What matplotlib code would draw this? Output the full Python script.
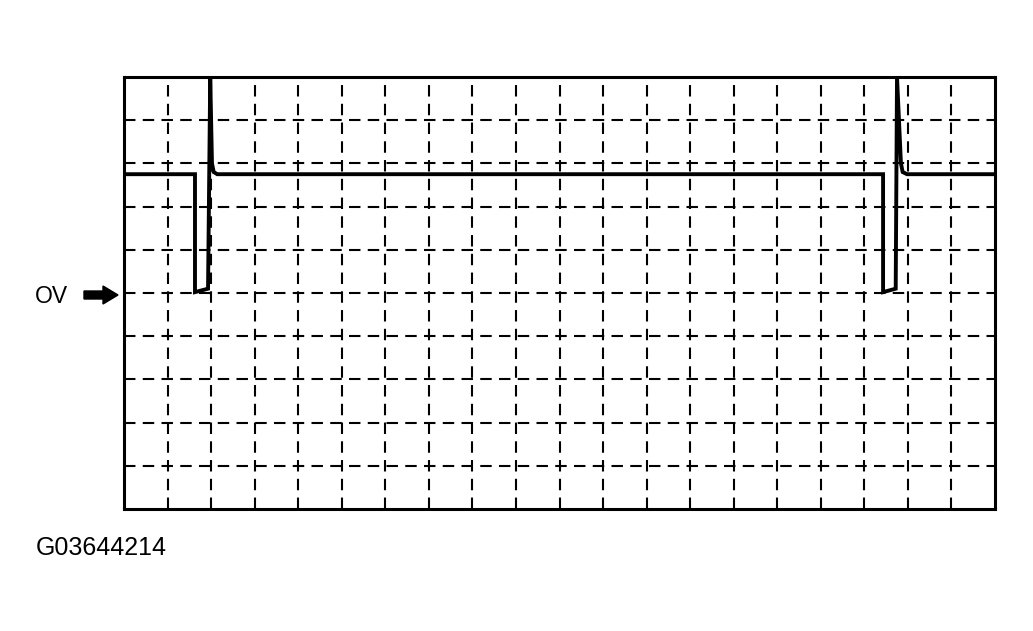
import matplotlib
matplotlib.use('Agg')
import matplotlib.pyplot as plt
from matplotlib.patches import Polygon
import numpy as np

plt.rcParams['font.family'] = ['Liberation Sans', 'DejaVu Sans']

# waveform, x in divisions (0..20), y in divisions (0V = 0)
t_vals = [0.0, 1.63, 1.63, 1.93, 1.98, 2.02, 2.06, 2.14,
          17.43, 17.43, 17.72, 17.75, 17.84, 17.88, 17.98, 20.0]
v_vals = [2.75, 2.75, 0.02, 0.10, 5.00, 3.00, 2.80, 2.75,
          2.75, 0.02, 0.10, 5.00, 3.00, 2.80, 2.75, 2.75]

x_divs = np.arange(1, 20)
y_divs = np.arange(-4, 5)

W, H = 1033, 631
fig = plt.figure(figsize=(W / 100, H / 100), dpi=100)
ax = fig.add_axes([124 / W, 1 - 509 / H, 871 / W, 432 / H])

# dashed grid
for xv in x_divs:
    ax.axvline(xv, color='black', lw=1.5, linestyle=(0, (5.5, 3.5)), zorder=1)
for yv in y_divs:
    ax.axhline(yv, color='black', lw=1.5, linestyle=(0, (5.5, 3.5)), zorder=1)

ax.plot(t_vals, v_vals, color='black', lw=2.8, solid_joinstyle='miter', zorder=3)

ax.set_xlim(0, 20)
ax.set_ylim(-5, 5)
ax.set_xticks([])
ax.set_yticks([])
for s in ax.spines.values():
    s.set_linewidth(2.2)
    s.set_color('black')

# 0V marker (block arrow drawn in pixel units)
cy = 295
arrow_px = [(84, cy - 4), (103, cy - 4), (103, cy - 9), (118, cy),
            (103, cy + 9), (103, cy + 4), (84, cy + 4)]
arrow = Polygon([(x / W, 1 - y / H) for x, y in arrow_px], closed=True,
                transform=fig.transFigure, color='black')
fig.patches.append(arrow)
fig.text(35 / W, 1 - 297 / H, 'OV', fontsize=16.5, va='center', ha='left')

fig.text(36 / W, 1 - 548 / H, 'G03644214', fontsize=18, va='center', ha='left')

fig.savefig('out.png', dpi=100)
